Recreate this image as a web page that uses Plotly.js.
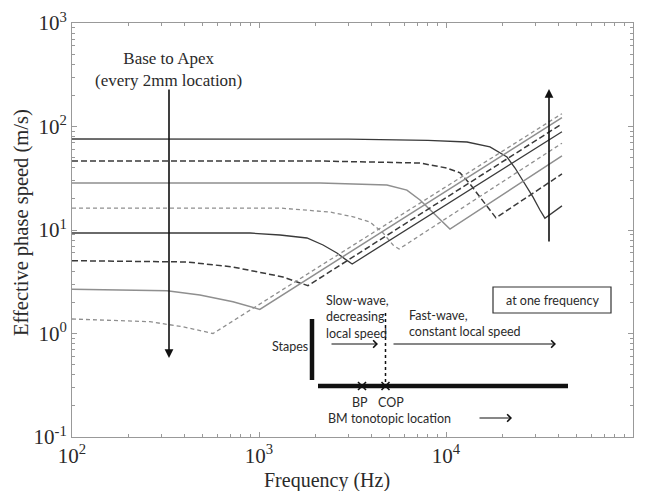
<!DOCTYPE html>
<html><head><meta charset="utf-8">
<script src="https://cdn.plot.ly/plotly-3.0.1.min.js"></script>
<style>html,body{margin:0;padding:0;background:#fff}#chart{width:646px;height:491px}</style>
</head><body><div id="chart"></div>
<script>
// Effective phase speed curves, base (1) to apex (8), every 2 mm location
const f1 = [100, 3000, 8000, 12950, 17180, 21200, 23400, 25800, 29200, 31800, 33800, 41700];
const c1 = [75.7, 75.5, 73.5, 70.8, 63.4, 50.7, 39.7, 30, 20.8, 15.6, 13.0, 17.1];
const f2 = [100, 2120, 7260, 10100, 11900, 13440, 15200, 17200, 18500, 41700];
const c2 = [46.4, 46.4, 44.4, 39.7, 35.6, 27.8, 20.8, 15.6, 13.1, 34.8];
const f3 = [100, 2120, 4830, 6180, 7260, 8210, 9290, 10500, 41700];
const c3 = [28.4, 28.4, 27.2, 24.3, 19.5, 15.6, 12.5, 10.2, 51.9];
const f4 = [100, 1295, 2400, 3190, 3930, 4610, 5210, 5610, 41700];
const c4 = [16.3, 16.3, 14.9, 13.4, 11.9, 9.35, 7.16, 6.55, 69];
const f5 = [100, 895, 1295, 1805, 2200, 2610, 2900, 3150, 41700];
const c5 = [9.35, 9.35, 8.95, 8.37, 7.16, 6.0, 5.2, 4.7, 89];
const f6 = [100, 412, 726, 1010, 1343, 1655, 1828, 41700];
const c6 = [5.05, 4.91, 4.39, 3.93, 3.52, 3.08, 2.90, 106];
const f7 = [100, 322, 483, 726, 1010, 41700];
const c7 = [2.67, 2.59, 2.35, 2.03, 1.71, 122];
const f8 = [100, 261, 393, 568, 41700];
const c8 = [1.38, 1.30, 1.16, 1.0, 133];

const xTickVals = [100, 1000, 10000, 100000];
const xTickText = ['10<sup>2</sup>', '10<sup>3</sup>', '10<sup>4</sup>', '10<sup>5</sup>'];
const yTickVals = [0.1, 1, 10, 100, 1000];
const yTickText = ['10<sup>-1</sup>', '10<sup>0</sup>', '10<sup>1</sup>', '10<sup>2</sup>', '10<sup>3</sup>'];

const DARK = '#3a3a3a', GRAY = '#8f8f8f';
const styles = [
  {color: DARK, dash: 'solid', width: 1.3},
  {color: DARK, dash: '6px,3px', width: 1.5},
  {color: GRAY, dash: 'solid', width: 1.5},
  {color: GRAY, dash: '4px,3px', width: 1.3},
  {color: DARK, dash: 'solid', width: 1.3},
  {color: DARK, dash: '6px,3px', width: 1.5},
  {color: GRAY, dash: 'solid', width: 1.5},
  {color: GRAY, dash: '4px,3px', width: 1.3}
];
const series = [[f1,c1],[f2,c2],[f3,c3],[f4,c4],[f5,c5],[f6,c6],[f7,c7],[f8,c8]];
const traces = series.map((s, i) => ({
  x: s[0], y: s[1], type: 'scatter', mode: 'lines', hoverinfo: 'skip',
  line: styles[i]
}));

// plot area in pixels
const L = 72, R = 633, T = 23, B = 437;
const px = x => (x - L) / (R - L);
const py = y => (B - y) / (B - T);

const serif = '"Liberation Serif", "DejaVu Serif", serif';
const sans = 'Lato, "Open Sans", sans-serif';
const TXT = '#2a2a2a';

function line(x0, y0, x1, y1, w, dash) {
  return {type: 'line', xref: 'paper', yref: 'paper', x0: px(x0), y0: py(y0), x1: px(x1), y1: py(y1),
    line: {color: '#111', width: w, dash: dash || 'solid'}};
}
function txt(t, x, y, xa, size, fam, extra) {
  return Object.assign({text: t, x: px(x), y: py(y), xref: 'paper', yref: 'paper', xanchor: xa || 'center',
    yanchor: 'middle', showarrow: false, font: {family: fam || sans, size: size || 12, color: TXT}, align: xa === 'left' ? 'left' : 'center'}, extra || {});
}
function arrow(hx, hy, tx, ty, head, w, size) {
  return {text: '', x: px(hx), y: py(hy), xref: 'paper', yref: 'paper', showarrow: true,
    ax: tx - hx, ay: ty - hy, arrowhead: head, arrowwidth: w, arrowsize: size, arrowcolor: '#111', standoff: 0, startstandoff: 0};
}

const shapes = [
  line(312, 319, 312, 380, 4.5),
  line(318, 386, 568, 386, 4.5),
  line(385.5, 313, 385.5, 383, 1.5, 'dot'),
  {type: 'rect', xref: 'paper', yref: 'paper', x0: px(493), y0: py(287), x1: px(611), y1: py(313),
    line: {color: '#333', width: 1.2}},
  line(358, 382, 366, 390, 1.6), line(358, 390, 366, 382, 1.6),
  line(381.5, 382, 389.5, 390, 1.6), line(381.5, 390, 389.5, 382, 1.6)
];

const annotations = [
  txt('Base to Apex<br>(every 2mm location)', 168, 69, 'center', 17, serif),
  arrow(169, 358, 169, 88, 2, 1.6, 1.1),
  arrow(549, 89, 549, 243, 2, 1.6, 1.1),
  txt('Stapes', 310, 346, 'right', 12.5),
  txt('Slow-wave,<br>decreasing<br>local speed', 324, 317, 'left', 12.5),
  txt('Fast-wave,<br>constant local speed', 407, 323, 'left', 12.5),
  txt('at one frequency', 552, 300, 'center', 12.5),
  txt('BP', 360, 402, 'center', 12.5),
  txt('COP', 391, 402, 'center', 12.5),
  txt('BM tonotopic location', 326, 418, 'left', 12.5),
  arrow(378, 344, 330, 344, 4, 1.1, 1.3),
  arrow(556, 344, 392, 344, 4, 1.1, 1.3),
  arrow(512, 418, 478, 418, 4, 1.1, 1.3),
  txt('Frequency (Hz)', 327, 480, 'center', 20, serif),
  txt('Effective phase speed (m/s)', 21, 223, 'center', 20.5, serif, {textangle: -90})
];

const axisCommon = {
  type: 'log', ticks: 'inside', ticklen: 5, tickwidth: 1, tickcolor: '#999',
  showline: true, linecolor: '#999', linewidth: 1, mirror: 'ticks', showgrid: false, zeroline: false,
  tickfont: {family: serif, size: 21, color: TXT},
  minor: {ticks: 'inside', ticklen: 3, dtick: 'D1', tickcolor: '#999', tickwidth: 1, showgrid: false}
};

const layout = {
  width: 646, height: 491, margin: {l: 72, r: 13, t: 23, b: 54},
  paper_bgcolor: '#fff', plot_bgcolor: '#fff', showlegend: false,
  xaxis: Object.assign({}, axisCommon, {range: [2, 5], tickmode: 'array', tickvals: xTickVals, ticktext: xTickText}),
  yaxis: Object.assign({}, axisCommon, {range: [-1, 3], tickmode: 'array', tickvals: yTickVals, ticktext: yTickText}),
  shapes: shapes, annotations: annotations
};

Plotly.newPlot('chart', traces, layout, {staticPlot: true, displayModeBar: false});
</script></body></html>
